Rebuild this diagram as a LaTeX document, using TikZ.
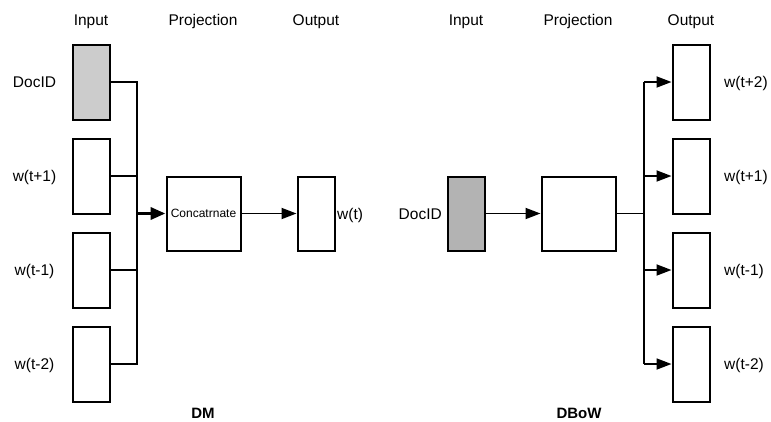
\documentclass[tikz,border=0pt]{standalone}
\usepackage{fontspec}
\setmainfont{Liberation Sans}
\usetikzlibrary{arrows.meta}
\definecolor{lgray}{RGB}{204,204,204}
\definecolor{mgray}{RGB}{179,179,179}
\begin{document}
\begin{tikzpicture}[x=1pt,y=-1pt,
  box/.style={draw=black, line width=2pt, fill=white, inner sep=0pt, minimum width=37pt, minimum height=75pt},
  bigbox/.style={box, minimum width=74pt, minimum height=74pt},
  wire/.style={draw=black, line width=1.8pt},
  arr/.style={wire, -{Triangle[length=15pt,width=11pt]}},
  thickarr/.style={draw=black, line width=3.5pt, -{Triangle[length=15pt,width=12pt]}},
  lab/.style={font=\fontsize{15.5}{18}\selectfont, inner sep=0pt, text height=11pt, text depth=0pt},
  title/.style={font=\bfseries\fontsize{15}{18}\selectfont, inner sep=0pt, text height=11pt, text depth=0pt}
]
\useasboundingbox (0,0) rectangle (771,421);

% ---------- DM ----------
\node[lab] (inL) at (91,20) {Input};
\node[lab] (prL) at (203,20) {Projection};
\node[lab] (ouL) at (316,20) {Output};

\node[box, fill=lgray] (d1) at (91,82) {};
\node[box] (w1) at (91,176) {};
\node[box] (w2) at (91,270) {};
\node[box] (w3) at (91,364) {};
\node[bigbox] (cc) at (203.5,213.5) {\fontsize{12}{14}\selectfont Concatrnate};
\node[box, minimum height=74pt] (out) at (316,213.5) {};

\node[lab] (ld1) at (34.5,82) {DocID};
\node[lab] (lw1) at (34.5,176) {w(t+1)};
\node[lab] (lw2) at (34.5,270) {w(t-1)};
\node[lab] (lw3) at (34.5,364) {w(t-2)};
\node[lab, anchor=west] (lout) at (337,213.5) {w(t)};
\node[title] (dm) at (203,413) {DM};

\coordinate (bx) at (137,0);
\draw[wire] (d1.east) -- (d1.east -| bx) -- (w3.east -| bx) -- (w3.east);
\draw[wire] (w1.east) -- (w1.east -| bx);
\draw[wire] (w2.east) -- (w2.east -| bx);
\draw[thickarr] (cc.west -| bx) -- (cc.west);
\draw[arr] (cc.east) -- (out.west);

% ---------- DBoW ----------
\node[lab] (inR) at (466,20) {Input};
\node[lab] (prR) at (578,20) {Projection};
\node[lab] (ouR) at (691,20) {Output};

\node[box, fill=mgray, minimum height=74pt] (rd) at (466,213.5) {};
\node[bigbox] (pj) at (578.5,213.5) {};
\node[box] (o1) at (691,82) {};
\node[box] (o2) at (691,176) {};
\node[box] (o3) at (691,270) {};
\node[box] (o4) at (691,364) {};

\node[lab, anchor=east] (lrd) at (442,213.5) {DocID};
\node[lab, anchor=west] (lo1) at (724,82) {w(t+2)};
\node[lab, anchor=west] (lo2) at (724,176) {w(t+1)};
\node[lab, anchor=west] (lo3) at (724,270) {w(t-1)};
\node[lab, anchor=west] (lo4) at (724,364) {w(t-2)};
\node[title] (dbow) at (579,413) {DBoW};

\coordinate (bx2) at (644,0);
\draw[arr] (rd.east) -- (pj.west);
\draw[wire] (pj.east) -- (pj.east -| bx2);
\draw[wire] (o1.west -| bx2) -- (o4.west -| bx2);
\draw[arr] (o1.west -| bx2) -- (o1.west);
\draw[arr] (o2.west -| bx2) -- (o2.west);
\draw[arr] (o3.west -| bx2) -- (o3.west);
\draw[arr] (o4.west -| bx2) -- (o4.west);
\end{tikzpicture}
\end{document}
